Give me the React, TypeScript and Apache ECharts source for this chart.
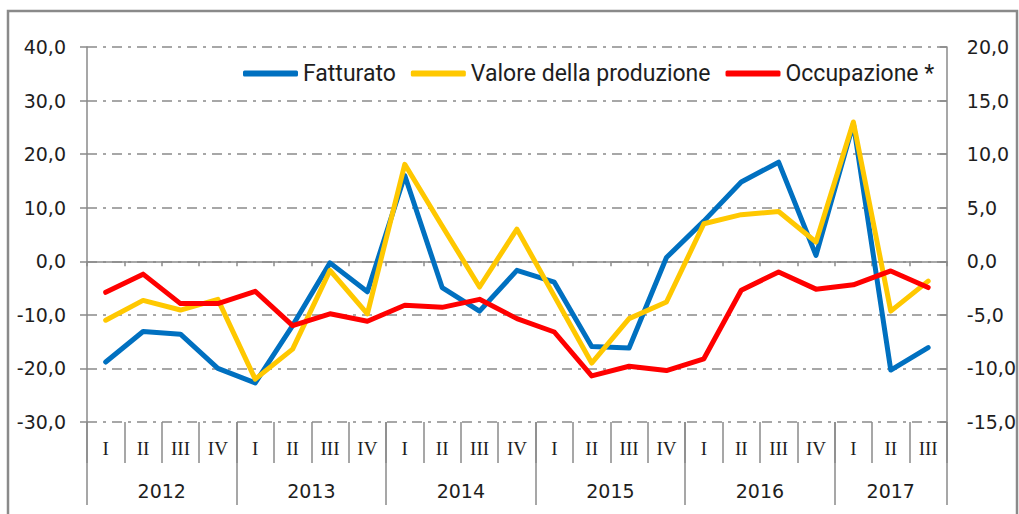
import React, { useEffect, useRef } from "react";
import * as echarts from "echarts";

const quarters = ["I","II","III","IV","I","II","III","IV","I","II","III","IV","I","II","III","IV","I","II","III","IV","I","II","III"];
const years = ["2012","2013","2014","2015","2016","2017"];
const quartersPerYear = [4,4,4,4,4,3];
const fatturato = [-18.8,-13.1,-13.6,-20.0,-22.7,-12.0,-0.3,-5.7,16.0,-4.9,-9.3,-1.7,-3.9,-15.9,-16.2,0.7,7.5,14.8,18.5,1.1,25.7,-20.3,-16.1];
const valoreProduzione = [-11.0,-7.3,-9.1,-7.1,-22.0,-16.4,-1.7,-9.8,18.1,6.6,-4.8,6.0,-6.5,-19.0,-10.7,-7.6,7.0,8.7,9.3,3.6,26.0,-9.3,-3.7];
const occupazione = [-2.9,-1.2,-3.95,-3.95,-2.8,-6.0,-4.9,-5.6,-4.1,-4.3,-3.55,-5.35,-6.6,-10.7,-9.8,-10.2,-9.1,-2.7,-1.0,-2.6,-2.2,-0.9,-2.45];
const seriesNames = ["Fatturato", "Valore della produzione", "Occupazione *"];

const GRAY = "#8a8a8a";
const TXT = "#1e1e1e";
const NUM_FONT = "'DejaVu Sans', sans-serif";

export default function App() {
  const ref = useRef<HTMLDivElement>(null);
  useEffect(() => {
    document.body.style.margin = "0";
    if (!ref.current) return;
    const chart = echarts.init(ref.current, null, { renderer: "svg" });

    const yearBounds: number[] = [0];
    const yearCenters: number[] = [];
    let acc = 0;
    quartersPerYear.forEach((n) => {
      yearCenters.push(acc + n / 2);
      acc += n;
      yearBounds.push(acc);
    });

    const fmt = (v: number) => v.toFixed(1).replace(".", ",");
    const gridDash = { color: GRAY, width: 1.5, type: [10, 6, 3, 6] as any };

    chart.setOption({
      animation: false,
      backgroundColor: "#ffffff",
      graphic: [
        {
          type: "rect",
          shape: { x: 8, y: 11, width: 1009, height: 600 },
          style: { fill: "none", stroke: GRAY, lineWidth: 2.5 },
          silent: true,
        },
      ],
      legend: {
        left: 238,
        top: 57,
        itemWidth: 55,
        itemHeight: 6,
        itemGap: 15,
        icon: "roundRect",
        textStyle: { fontFamily: "Roboto, sans-serif", fontSize: 23, color: TXT },
        data: seriesNames,
      },
      grid: { left: 87, right: 71, top: 47, bottom: 92, containLabel: false },
      xAxis: [
        {
          type: "category",
          data: quarters,
          boundaryGap: true,
          position: "bottom",
          axisLine: { show: true, onZero: true, lineStyle: { color: GRAY, width: 1.5 } },
          axisTick: { show: true, interval: 0, length: 5, inside: false, lineStyle: { color: GRAY, width: 1.5 } },
          axisLabel: { show: false },
          splitLine: { show: false },
        },
        {
          type: "category",
          data: quarters,
          boundaryGap: true,
          position: "bottom",
          axisLine: { show: false, onZero: false },
          axisTick: { show: true, interval: 0, length: 41, lineStyle: { color: GRAY, width: 1.5 } },
          axisLabel: {
            show: true,
            interval: 0,
            margin: 17,
            fontFamily: "'Liberation Serif', serif",
            fontSize: 19,
            color: TXT,
          },
          splitLine: { show: false },
        },
        {
          type: "value",
          min: 0,
          max: quarters.length,
          position: "bottom",
          axisLine: { show: false, onZero: false },
          axisTick: { show: true, customValues: yearBounds, length: 83, lineStyle: { color: GRAY, width: 1.5 } },
          axisLabel: {
            show: true,
            customValues: yearCenters,
            margin: 59,
            fontFamily: NUM_FONT,
            fontSize: 19,
            color: TXT,
            formatter: (v: number) => {
              const i = yearCenters.findIndex((c) => Math.abs(c - v) < 1e-6);
              return i >= 0 ? years[i] : "";
            },
          },
          splitLine: { show: false },
        },
      ],
      yAxis: [
        {
          type: "value",
          min: -30,
          max: 40,
          interval: 10,
          position: "left",
          axisLine: { show: true, lineStyle: { color: GRAY, width: 1.5 } },
          axisTick: { show: true, length: 7, lineStyle: { color: GRAY, width: 1.5 } },
          axisLabel: { margin: 21, fontFamily: NUM_FONT, fontSize: 19, color: TXT, formatter: fmt },
          splitLine: { show: true, lineStyle: gridDash },
        },
        {
          type: "value",
          min: -15,
          max: 20,
          interval: 5,
          position: "right",
          axisLine: { show: true, lineStyle: { color: GRAY, width: 1.5 } },
          axisTick: { show: true, inside: true, length: 7, lineStyle: { color: GRAY, width: 1.5 } },
          axisLabel: { margin: 20, fontFamily: NUM_FONT, fontSize: 19, color: TXT, formatter: fmt },
          splitLine: { show: false },
        },
      ],
      series: [
        {
          name: seriesNames[0],
          type: "line",
          data: fatturato,
          xAxisIndex: 0,
          yAxisIndex: 0,
          symbol: "none",
          color: "#0070c0",
          lineStyle: { width: 5, cap: "round", join: "round" },
        },
        {
          name: seriesNames[1],
          type: "line",
          data: valoreProduzione,
          xAxisIndex: 0,
          yAxisIndex: 0,
          symbol: "none",
          color: "#ffc800",
          lineStyle: { width: 5, cap: "round", join: "round" },
        },
        {
          name: seriesNames[2],
          type: "line",
          data: occupazione,
          xAxisIndex: 0,
          yAxisIndex: 1,
          symbol: "none",
          color: "#ff0000",
          lineStyle: { width: 5, cap: "round", join: "round" },
        },
      ],
    });
    return () => chart.dispose();
  }, []);
  return <div ref={ref} style={{ width: 1019, height: 514 }} />;
}
